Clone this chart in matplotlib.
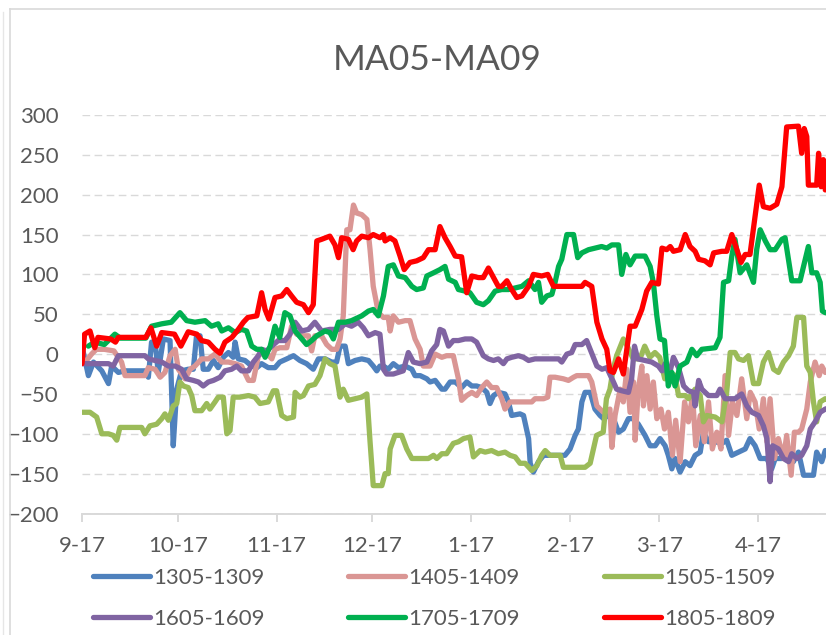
import matplotlib
matplotlib.use("Agg")
import matplotlib.pyplot as plt
from matplotlib.lines import Line2D

plt.rcParams['font.family'] = ['Lato', 'DejaVu Sans']

title = "MA05-MA09"
tick_days = [0, 30, 61, 91, 122, 153, 181, 212]
tick_labels = ["9-17", "10-17", "11-17", "12-17", "1-17", "2-17", "3-17", "4-17"]
y_ticks = [-200, -150, -100, -50, 0, 50, 100, 150, 200, 250, 300]

names = ["1305-1309", "1405-1409", "1505-1509", "1605-1609", "1705-1709", "1805-1809"]
colors = ["#4F81BD", "#DA9694", "#9BBB59", "#8064A2", "#00B050", "#FF0000"]

# series: days since 9-17, values
s1305_x = [0, 2, 3.6, 6.2, 8.3, 9.3, 11.4, 13.5, 19.7, 20.8, 21.8, 22.9, 23.9, 25.5, 27.6, 28.6, 29.7, 31.2, 33.3, 34.9, 35.9, 37, 38, 39.6, 41.2, 42.7, 44.3, 45.9, 47.4, 48, 49, 51.1, 53.2, 54.8, 56.3, 58.4, 60.5, 62, 64.2, 66.3, 68.3, 70.4, 72.5, 74.1, 76.2, 78.3, 79.8, 80.9, 82.5, 83.5, 85.6, 87.7, 89.8, 91.3, 92.4, 93.4, 94.5, 96, 97.6, 99.2, 101.3, 103.4, 104.4, 106, 108.1, 109.1, 110.7, 112.8, 113.8, 115.4, 117, 119, 120.6, 122.2, 123.7, 125.3, 126.9, 127.9, 129, 130.5, 132.6, 133.7, 134.7, 137.3, 138.4, 140, 140.5, 141.5, 143.1, 144.7, 151.4, 153, 154.6, 155.6, 156.7, 157.7, 159.3, 160.8, 162.4, 163.5, 165, 166.6, 168.2, 169.7, 171.3, 172.9, 174.4, 176.5, 178.1, 179.7, 181.2, 182.8, 183.8, 184.9, 185.9, 187.5, 189.1, 190.6, 192.2, 193.8, 194.8, 196.4, 198.5, 200.6, 202.1, 203.7, 205.8, 207.9, 209.4, 211, 212.6, 214.7, 216.2, 217.3, 219.4, 221.5, 223, 224.6, 226.2, 229.3, 230.3, 231.9, 233, 236]
s1305_y = [10, -27, -10, -21, -37, -15, -23, -21, -21, -29, 15, 15, -23, 19, 17, -115, -44, -21, -19, -19, 23, 23, -19, -19, -8, -17, -4, 2, -4, 15, -6, -8, -15, -17, -12, -17, -17, -10, -6, -2, -8, -12, -19, -6, -6, -10, -10, 10, 10, -12, -8, -6, -8, -15, -21, -15, -15, -19, -12, -17, -15, -19, -27, -27, -31, -35, -33, -44, -44, -35, -35, -42, -35, -40, -40, -42, -48, -62, -52, -48, -50, -60, -77, -75, -77, -106, -137, -148, -135, -127, -127, -119, -102, -94, -60, -48, -48, -69, -77, -81, -77, -81, -98, -94, -81, -81, -88, -102, -115, -115, -106, -115, -127, -144, -131, -148, -135, -140, -127, -123, -98, -110, -110, -112, -108, -127, -123, -119, -106, -115, -131, -131, -144, -131, -131, -127, -135, -123, -152, -152, -123, -135, -121, -125]

s1405_x = [0, 1, 3, 4.5, 7, 10, 12.4, 13.5, 19.7, 20.8, 22.9, 24.5, 26, 27.6, 29.2, 30.2, 32.3, 33.9, 35.4, 37.5, 39.6, 41.7, 43.8, 45.9, 48, 50, 52.2, 53.7, 55.3, 57.4, 59.5, 60.5, 62, 64.2, 65.7, 67.3, 68.9, 71, 72, 73, 75.1, 76.7, 78.3, 79.8, 80.9, 81.9, 83, 84, 85.1, 86.1, 87.7, 89.3, 90.3, 91.3, 92.9, 94.5, 96, 96.6, 97.6, 99.2, 101.3, 102.8, 104.4, 106, 107, 109.1, 110.7, 112.8, 114.3, 116.4, 118, 119, 120.6, 122.2, 123.7, 125.3, 126.9, 128.4, 130, 131.6, 132.6, 134.2, 141, 142, 144.7, 146, 146.7, 148.3, 150.9, 152.5, 154.1, 155.1, 158.8, 159.8, 161.4, 162.4, 163.5, 165.5, 166.1, 167.1, 168.7, 169.7, 170.8, 171.8, 172.9, 173.4, 174.4, 175.5, 176, 177.1, 178.1, 179.1, 180.2, 181.5, 182.6, 183.8, 185.1, 186.1, 187.5, 188.9, 190.1, 191.4, 192.4, 193.8, 195.1, 196.4, 197.6, 199, 200.3, 201.6, 202.7, 203.9, 205.3, 206.8, 208.4, 209.5, 211, 212.3, 213.6, 214.7, 215.7, 217.1, 218.3, 219.9, 220.9, 222.3, 223.3, 224.6, 225.6, 227.2, 228.3, 229.8, 231.1, 231.9, 233, 236]
s1405_y = [-5, -10, 0, 6, 6, 4, -10, -27, -27, -17, -19, -29, -23, -2, 6, -19, -31, -19, -15, -6, -6, 0, -10, -10, -12, -15, -33, -33, -2, 4, -6, 6, 8, 8, 35, 25, 23, 23, 4, 23, 23, 12, 6, 6, 19, 48, 156, 156, 187, 177, 175, 169, 131, 85, 52, 46, 46, 29, 48, 40, 42, 42, 19, 6, -15, -15, 0, -4, -2, -2, -31, -58, -52, -48, -52, -42, -35, -42, -42, -56, -69, -60, -60, -56, -56, -54, -29, -29, -31, -33, -29, -27, -27, -35, -65, -69, -73, -69, -117, -77, -44, -60, -19, -73, -35, -108, -44, -15, -65, -27, -69, -35, -81, -69, -94, -73, -127, -83, -135, -60, -85, -52, -115, -77, -110, -60, -119, -98, -119, -27, -102, -60, -77, -31, -81, -48, -60, -94, -56, -110, -56, -131, -106, -131, -102, -152, -98, -98, -94, -69, -35, -10, -27, -15, -23, -20]

s1505_x = [0, 2.5, 4.6, 6.2, 8.3, 9.8, 10.9, 11.9, 18.7, 19.7, 21.3, 23.4, 25, 26, 27.1, 28.6, 29.7, 30.7, 31.8, 33.3, 34.4, 35.4, 37.5, 39.1, 40.1, 41.7, 42.7, 44.3, 45.4, 46.4, 47.4, 49.5, 52.2, 54.2, 55.8, 58.4, 60, 61, 62.6, 64.2, 66.3, 66.8, 68.3, 69.4, 71, 73, 74.6, 76.2, 77.7, 79.3, 80.9, 81.9, 83.5, 85.6, 87.7, 89.3, 90.3, 91.3, 94, 95, 96, 96.6, 98.1, 100.2, 101.8, 103.4, 108.6, 110.2, 111.2, 112.8, 114.3, 116.4, 118, 119.6, 121.6, 122.7, 124.8, 126.4, 128.4, 130.5, 132.6, 134.2, 135.8, 137.3, 138.9, 141, 142.6, 144.1, 145.2, 146.7, 149.9, 150.9, 157.7, 159.3, 161.3, 163.4, 164.4, 165.5, 166.5, 167.6, 169.7, 170.7, 172.8, 174.9, 176.4, 178, 179.6, 181.1, 182.7, 184.4, 185.9, 187, 189.1, 190.1, 192.2, 193.8, 194.8, 195.9, 198.5, 200.6, 202.1, 203.2, 204.7, 205.8, 207.4, 208.9, 210.5, 212.1, 213.6, 215.2, 216.8, 218.3, 219.9, 221.5, 223, 224.1, 226.2, 227.2, 228.3, 229.3, 230.3, 231.4, 233, 236]
s1505_y = [-73, -73, -79, -100, -100, -102, -108, -92, -92, -100, -90, -88, -81, -75, -83, -65, -62, -35, -40, -42, -52, -71, -71, -62, -69, -60, -54, -54, -100, -96, -54, -54, -52, -54, -62, -60, -46, -46, -77, -81, -79, -48, -54, -52, -40, -38, -27, -6, -12, -15, -54, -44, -58, -56, -54, -50, -110, -165, -165, -150, -150, -119, -102, -102, -119, -131, -131, -127, -131, -125, -125, -112, -110, -106, -104, -129, -121, -123, -121, -125, -123, -127, -129, -137, -137, -146, -140, -127, -121, -127, -127, -142, -142, -137, -102, -98, -56, -44, -19, -2, 19, 12, -6, -6, 10, -4, 2, -4, -31, -23, -27, -52, -52, -56, -44, -52, -85, -77, -79, -85, -48, 2, 2, -6, -8, -2, -37, -37, -10, 2, -19, -23, -10, -2, 10, 46, 46, -15, -23, -60, -85, -60, -56, -60]

s1605_x = [0, 8.3, 9.8, 11.4, 19.7, 20.8, 22.9, 25, 27.1, 29.2, 31.2, 32.8, 34.9, 36.5, 38, 39.6, 41.2, 43.3, 44.8, 46.9, 48.5, 50, 52.2, 53.7, 55.3, 56.3, 57.9, 59.5, 61.5, 63.6, 65.2, 66.8, 68.9, 71, 73, 75.1, 77.7, 80.4, 82.5, 84.5, 86.6, 88.2, 89.8, 91.9, 93.4, 94.5, 95.5, 97.6, 99.2, 100.7, 102.3, 103.9, 106, 108.1, 109.6, 111.2, 112.2, 113.3, 114.9, 116.4, 118, 120.1, 122.2, 123.7, 125.8, 127.4, 129, 130.5, 132.1, 133.2, 134.7, 136.8, 138.4, 140, 142, 149.4, 150.4, 152, 153.5, 154.6, 156.7, 158.2, 159.3, 161.4, 163, 164.5, 166.6, 167.6, 169.2, 171.3, 172.3, 173.2, 174.2, 176.5, 178.6, 180.7, 181.8, 182.8, 183.8, 185.4, 187, 188.6, 190.1, 191.7, 192.2, 193.3, 194.3, 196.4, 199, 200, 201.6, 204.7, 206.8, 208.4, 210, 212.1, 213.6, 214.7, 215.7, 216.5, 218.3, 219.9, 221.5, 222.5, 224.1, 225.6, 227.2, 228.3, 229.8, 231.4, 233, 236]
s1605_y = [-12, -12, -15, -2, -2, -6, -8, -10, -15, -15, -19, -31, -33, -35, -40, -35, -33, -29, -21, -19, -15, -21, -21, -10, -2, 6, 4, 10, 17, 17, 25, 40, 29, 31, 40, 29, 31, 31, 38, 35, 40, 33, 23, 27, 25, -19, -25, -25, -23, -21, 2, -10, -12, -10, 4, 12, 31, 29, 10, 17, 17, 19, 19, 15, -2, -6, -8, -6, -12, -6, -4, -2, -4, -8, -6, -6, -10, 0, 2, 12, 12, 17, 6, -15, -19, -17, -35, -44, -46, -48, -31, 10, -6, -8, -10, -15, -21, -12, -31, -4, -17, -40, -46, -48, -65, -33, -44, -52, -52, -44, -56, -56, -50, -65, -73, -77, -90, -106, -160, -115, -119, -131, -135, -125, -131, -127, -115, -94, -85, -73, -69, -65]

s1705_x = [2, 4, 7, 10.3, 12, 20, 21.8, 25, 28, 30.7, 32.8, 35.4, 38.6, 40.6, 42.7, 43.8, 45.9, 48, 50, 51.6, 53.2, 54.8, 56.3, 57.4, 59, 60.5, 62, 63.6, 65.2, 66.8, 68.9, 70.4, 72, 73.6, 76.2, 77.7, 78.8, 80.4, 82.5, 84.5, 86.6, 87.7, 89.8, 91.3, 92.9, 94.5, 96, 97.6, 99.2, 101.3, 103.4, 104.9, 107, 108.1, 110.2, 112.2, 113.8, 114.9, 117, 118, 120.1, 121.6, 123.7, 125.8, 127.4, 129.5, 131.6, 133.7, 135.8, 137.9, 140, 142, 143.1, 144.1, 145.7, 147.3, 148.3, 149.4, 150.4, 152, 154.1, 155.4, 156.7, 158.8, 160.8, 162.9, 164.5, 166.1, 168.2, 169.2, 170.5, 171.8, 173.4, 176.5, 178.1, 179.1, 180.2, 181.2, 182.6, 183.8, 184.9, 185.9, 187.5, 189.6, 191.2, 192.7, 194.3, 198.5, 200, 201.1, 202.7, 203.7, 204.7, 206.3, 208.4, 210.5, 211.5, 212.6, 214.2, 215.7, 217.3, 219.4, 220.4, 222.5, 225.1, 227.7, 228.8, 230.3, 231.4, 232.1, 233, 236]
s1705_y = [10, 15, 12, 25, 20, 20, 35, 38, 40, 52, 42, 40, 42, 35, 38, 29, 33, 27, 31, 29, 10, 6, 6, -4, 10, 35, 21, 52, 48, 29, 19, 12, 17, 23, 29, 27, 19, 40, 40, 42, 46, 48, 54, 56, 48, 73, 110, 112, 98, 96, 85, 81, 83, 98, 102, 106, 110, 94, 90, 81, 79, 77, 65, 62, 67, 79, 81, 81, 83, 85, 92, 81, 90, 65, 73, 75, 90, 110, 119, 150, 150, 121, 127, 131, 133, 135, 133, 137, 137, 100, 125, 112, 123, 123, 110, 90, 48, 19, 17, -40, -23, -40, -15, -10, 6, -2, 6, 8, 21, 90, 92, 123, 144, 102, 112, 90, 131, 156, 142, 131, 131, 144, 146, 92, 92, 135, 102, 102, 90, 54, 52, 50]

s1805_x = [0, 0.8, 2.5, 4, 5, 9, 10.5, 11.4, 20, 21.6, 23.4, 25, 29, 31, 33.3, 36, 37.5, 39.6, 41.7, 43.3, 44.8, 47, 49, 50.6, 52, 54.8, 56.3, 57.4, 58.6, 60.5, 62.6, 64.2, 65.7, 67.3, 69.4, 71, 72.5, 73.6, 75.1, 77.7, 79.3, 80.4, 81.4, 83.5, 85, 86.1, 87.7, 89.8, 91.3, 93.4, 94.5, 95, 96.6, 98.1, 99.7, 101, 102.8, 104.9, 107, 108.6, 110.7, 112.2, 113.8, 115.4, 117, 119, 120.6, 122.2, 124.3, 125.8, 127.4, 129, 130.5, 131.6, 133.2, 134.7, 136.3, 137.9, 140, 141.5, 144.1, 146, 147.8, 156.7, 157.7, 159.8, 161.4, 163, 164.5, 165.5, 166.6, 168.2, 169.7, 170.8, 171.8, 173.4, 175.5, 177, 178.6, 180.7, 181.8, 183.3, 184.4, 185.4, 187.5, 189.1, 190.6, 192.2, 193.3, 195.3, 196.9, 198, 200.6, 202.1, 203.7, 205.3, 206.6, 207.9, 209.4, 211, 212.3, 213.6, 215.7, 217.8, 219.4, 220.9, 224.6, 225.6, 226.4, 227.2, 227.7, 230.3, 230.9, 231.7, 232.4, 233, 236]
s1805_y = [-12, 25, 29, 8, 21, 19, 15, 21, 21, 33, 10, 27, 25, 10, 28, 25, 17, 15, 6, 1, 15, 21, 31, 40, 46, 48, 77, 56, 44, 71, 73, 81, 73, 65, 62, 52, 62, 142, 144, 148, 137, 121, 146, 144, 131, 142, 148, 146, 150, 146, 150, 142, 146, 142, 123, 106, 115, 117, 121, 131, 131, 160, 146, 135, 123, 122, 77, 98, 96, 96, 108, 96, 85, 85, 92, 81, 71, 73, 85, 100, 98, 100, 85, 85, 90, 85, 40, 19, 6, -21, -23, -6, -25, 6, 35, 35, 56, 79, 90, 88, 133, 131, 135, 129, 131, 150, 135, 129, 119, 117, 112, 127, 129, 129, 150, 131, 115, 125, 125, 173, 212, 185, 183, 188, 210, 285, 286, 252, 283, 273, 212, 212, 252, 210, 244, 206, 210]

series_x = [s1305_x, s1405_x, s1505_x, s1605_x, s1705_x, s1805_x]
series_y = [s1305_y, s1405_y, s1505_y, s1605_y, s1705_y, s1805_y]

W, H = 826, 635
fig = plt.figure(figsize=(W / 100, H / 100), dpi=100)
fig.patch.set_facecolor("white")

x_min, x_max = 0, 240
px_per_day = 3.19
ax_left_px, ax_bottom_px, ax_top_px = 82, 513.5, 115
ax_w_px = (x_max - x_min) * px_per_day
ax = fig.add_axes([ax_left_px / W, (H - ax_bottom_px) / H, ax_w_px / W, (ax_bottom_px - ax_top_px) / H])
ax.set_xlim(x_min, x_max)
ax.set_ylim(-200, 300)

grid_color = "#D9D9D9"
text_color = "#595959"
ax.set_yticks(y_ticks)
ax.yaxis.grid(True, color=grid_color, linewidth=1.0, linestyle=(0, (5.5, 3.2)))
ax.set_axisbelow(True)
ax.set_xticks(tick_days)
ax.set_xticklabels(tick_labels)
for sp in ["top", "right", "left"]:
    ax.spines[sp].set_visible(False)
ax.spines["bottom"].set_color(grid_color)
ax.spines["bottom"].set_linewidth(1.4)
ax.tick_params(axis="x", colors=grid_color, length=6, width=1.4, direction="out", pad=10,
               labelcolor=text_color, labelsize=16)
ax.tick_params(axis="y", length=0, pad=17, labelcolor=text_color, labelsize=16)

lines = []
for xs, ys, c, n in zip(series_x, series_y, colors, names):
    ln, = ax.plot(xs, ys, color=c, linewidth=3.8, label=n, solid_joinstyle="round",
                  solid_capstyle="round", clip_on=True)
    lines.append(ln)

fig.text(437 / W, 1 - 60 / H, title, ha="center", va="center", fontsize=25.5, color=text_color)

order = [0, 3, 1, 4, 2, 5]
leg = fig.legend([lines[i] for i in order], [names[i] for i in order], ncol=3,
                 loc="center left", bbox_to_anchor=(93 / W, 1 - 598.5 / H),
                 frameon=False, fontsize=16, handlelength=2.55, handletextpad=0.15,
                 columnspacing=3.78, labelspacing=0.96, borderpad=0, borderaxespad=0)
for t in leg.get_texts():
    t.set_color(text_color)

# chart area border
fig.add_artist(Line2D([9.5 / W, 9.5 / W], [0, 1 - 8.5 / H], transform=fig.transFigure,
                      color=grid_color, linewidth=1.2))
fig.add_artist(Line2D([9.5 / W, 1], [1 - 8.5 / H, 1 - 8.5 / H], transform=fig.transFigure,
                      color=grid_color, linewidth=1.2))
fig.add_artist(Line2D([2.5 / W, 2.5 / W], [0, 1 - 12 / H], transform=fig.transFigure,
                      color="#E6E6E6", linewidth=1.0))

fig.savefig("out.png", dpi=100, facecolor="white")
